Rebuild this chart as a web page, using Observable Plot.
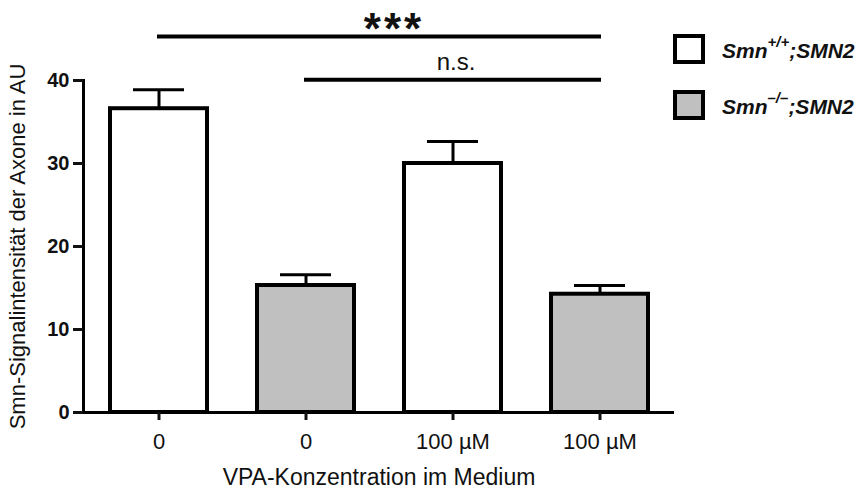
<!DOCTYPE html>
<html>
<head>
<meta charset="utf-8">
<script src="https://cdn.jsdelivr.net/npm/d3@7"></script>
<script src="https://cdn.jsdelivr.net/npm/@observablehq/plot@0.6"></script>
<style>
  html, body { margin: 0; padding: 0; background: #fff; }
  #wrap { position: relative; width: 862px; height: 493px; font-family: "Liberation Sans", Arial, sans-serif; }
  .legend { position: absolute; left: 673px; top: 34px; }
  .item { position: absolute; left: 0; display: flex; align-items: center; white-space: nowrap; }
  .box { width: 32px; height: 30px; box-sizing: border-box; border: 4px solid #000; }
  .lab { margin-left: 17px; font-weight: bold; font-style: italic; font-size: 21px; color: #111; }
  .lab sup { font-size: 15px; position: relative; top: -3px; }
</style>
</head>
<body>
<div id="wrap"></div>
<script>
// ---- data ----
const tickLabels = ["0", "0", "100 µM", "100 µM"];
const genotypes = ["Smn+/+;SMN2", "Smn-/-;SMN2", "Smn+/+;SMN2", "Smn-/-;SMN2"];
const values = [36.6, 15.3, 30.0, 14.25];
const errors = [2.3, 1.3, 2.65, 1.05];
const genotypeNames = ["Smn+/+;SMN2", "Smn-/-;SMN2"];
const genotypeFills = ["#ffffff", "#c0c0c0"];
const yTicks = [0, 10, 20, 30, 40];
const sigFrom = [0, 1];
const sigTo = [3, 3];
const sigLevel = [45.3, 40.1];
const sigLabel = ["***", "n.s."];
const xTitle = "VPA-Konzentration im Medium";
const yTitle = "Smn-Signalintensität der Axone in AU";

const bars = values.map((v, i) => ({i, v, e: v + errors[i], g: genotypes[i]}));
const sigs = sigLabel.map((s, k) => ({from: sigFrom[k], to: sigTo[k], y: sigLevel[k], label: s}));

const plot = Plot.plot({
  width: 862,
  height: 493,
  marginLeft: 83,
  marginRight: 188,
  marginTop: 80,
  marginBottom: 81,
  style: {fontFamily: "'Liberation Sans', Arial, sans-serif", color: "#111", background: "#fff"},
  x: {type: "band", domain: [0, 1, 2, 3], paddingInner: 0.343, paddingOuter: 0.17},
  y: {domain: [0, 40]},
  color: {domain: genotypeNames, range: genotypeFills},
  marks: [
    Plot.barY(bars, {x: "i", y: "v", fill: "g", stroke: "#000", strokeWidth: 4}),
    Plot.ruleX(bars, {x: "i", y1: "v", y2: "e", stroke: "#000", strokeWidth: 3}),
    Plot.tickY(bars, {x: "i", y: "e", stroke: "#000", strokeWidth: 3, insetLeft: 23, insetRight: 23}),
    Plot.ruleY(sigs, {x1: "from", x2: "to", y: "y", stroke: "#000", strokeWidth: 4, insetLeft: 47, insetRight: 47}),
    Plot.text(sigs.filter(d => d.label === "***"), {y: "y", text: "label", dx: 15, dy: -7, fontSize: 44, fontWeight: "bold", fill: "#111"}),
    Plot.text(sigs.filter(d => d.label !== "***"), {x: () => 2, y: "y", text: "label", dx: 3, dy: -17, fontSize: 24, fill: "#111"}),
    Plot.frame({anchor: "left", stroke: "#000", strokeWidth: 3}),
    Plot.ruleY([0], {stroke: "#000", strokeWidth: 3}),
    Plot.axisY({ticks: yTicks, tickSize: 10, tickPadding: 4, strokeWidth: 3, fontSize: 20, fontWeight: "bold", label: null}),
    Plot.axisY({ticks: [], tickSize: 0, fontSize: 22, fill: "#111",
      label: yTitle, labelAnchor: "center", labelArrow: "none", labelOffset: 74}),
    Plot.axisX({tickFormat: i => tickLabels[i], tickSize: 8, tickPadding: 13, strokeWidth: 3, fontSize: 22,
      label: null}),
    Plot.axisX({ticks: [], tickSize: 0, fontSize: 23, fill: "#111",
      label: xTitle, labelAnchor: "center", labelArrow: "none", labelOffset: 72})
  ]
});
// widen the spacing of the significance stars slightly
d3.select(plot).selectAll("text").filter(function () { return this.textContent === "***"; })
  .style("letter-spacing", "3px");
document.getElementById("wrap").appendChild(plot);

// legend
const legend = document.createElement("div");
legend.className = "legend";
const legendItems = [
  {base: "Smn", sup: "+/+", rest: ";SMN2", fill: genotypeFills[0], top: 0},
  {base: "Smn", sup: "\u2013/\u2013", rest: ";SMN2", fill: genotypeFills[1], top: 56}
];
legendItems.forEach(it => {
  const row = document.createElement("div");
  row.className = "item";
  row.style.top = it.top + "px";
  const box = document.createElement("div");
  box.className = "box";
  box.style.background = it.fill;
  const lab = document.createElement("span");
  lab.className = "lab";
  lab.innerHTML = it.base + "<sup>" + it.sup + "</sup>" + it.rest;
  row.appendChild(box);
  row.appendChild(lab);
  legend.appendChild(row);
});
document.getElementById("wrap").appendChild(legend);
</script>
</body>
</html>
